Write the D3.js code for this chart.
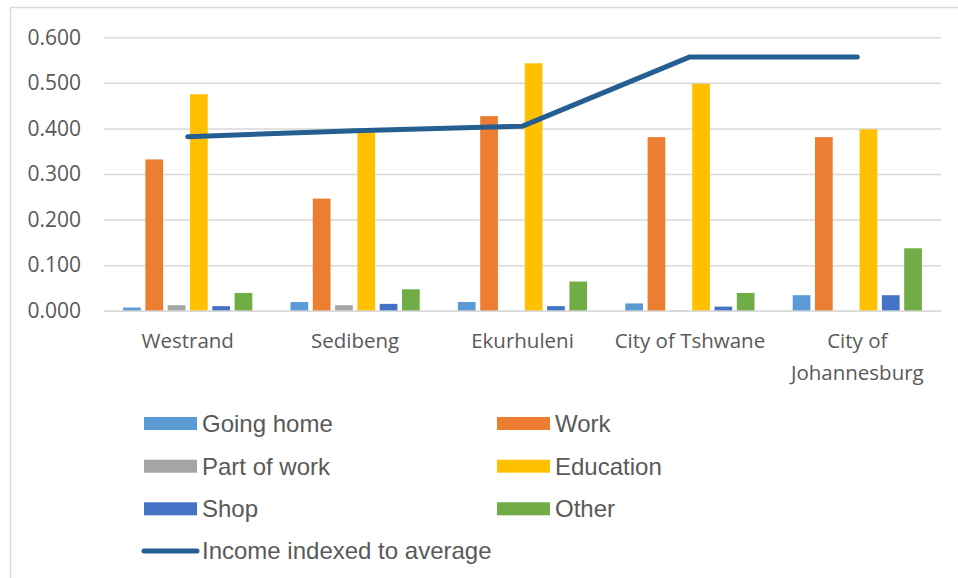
<!DOCTYPE html>
<html lang="en">
<head>
    <meta charset="UTF-8">
    <title>Trip purpose by region</title>
    <style>
        * { margin: 0; padding: 0; box-sizing: border-box; }
        body { background: #ffffff; width: 958px; height: 578px; overflow: hidden; }
        .axis text { fill: #595959; font-family: 'Open Sans', sans-serif; }
        .legend text { fill: #595959; font-family: 'Liberation Sans', Arial, sans-serif; font-size: 24px; }
    </style>
</head>
<body>
    <div id="chart"></div>

    <script src="https://d3js.org/d3.v7.min.js"></script>
    <script>
        const categories = ["Westrand", "Sedibeng", "Ekurhuleni", "City of Tshwane", "City of Johannesburg"];
        const categoryLines = [["Westrand"], ["Sedibeng"], ["Ekurhuleni"], ["City of Tshwane"], ["City of", "Johannesburg"]];

        const seriesNames = ["Going home", "Work", "Part of work", "Education", "Shop", "Other"];
        const seriesColors = ["#5B9BD5", "#ED7D31", "#A5A5A5", "#FFC000", "#4472C4", "#70AD47"];

        const goingHome  = [0.007, 0.019, 0.019, 0.016, 0.034];
        const work       = [0.332, 0.246, 0.427, 0.381, 0.381];
        const partOfWork = [0.012, 0.012, 0.000, 0.001, 0.000];
        const education  = [0.475, 0.398, 0.543, 0.498, 0.398];
        const shop       = [0.010, 0.015, 0.010, 0.009, 0.034];
        const other      = [0.039, 0.047, 0.064, 0.039, 0.137];

        const lineName = "Income indexed to average";
        const income = [0.382, 0.395, 0.405, 0.557, 0.557];

        const yTicks = [0, 0.1, 0.2, 0.3, 0.4, 0.5, 0.6];

        const seriesValues = [goingHome, work, partOfWork, education, shop, other];

        const W = 958, H = 578;
        const plot = { left: 104, right: 941, top: 37.3, bottom: 310.7 };

        const svg = d3.select("#chart")
            .append("svg")
            .attr("width", W)
            .attr("height", H);

        // chart frame (only top and left edges visible)
        svg.append("rect")
            .attr("x", 10.5).attr("y", 7.5)
            .attr("width", 1000).attr("height", 1000)
            .attr("fill", "none")
            .attr("stroke", "#D9D9D9")
            .attr("stroke-width", 1.5);

        const x0 = d3.scaleBand()
            .domain(categories)
            .range([plot.left, plot.right])
            .padding(0);

        const x1 = d3.scaleBand()
            .domain(seriesNames)
            .range([0, x0.bandwidth()])
            .paddingInner(0.206)
            .paddingOuter(0.856);

        const y = d3.scaleLinear()
            .domain([0, 0.6])
            .range([plot.bottom, plot.top]);

        // y axis + gridlines
        const yAxis = svg.append("g")
            .attr("class", "axis y")
            .attr("transform", `translate(${plot.left},0)`)
            .call(d3.axisLeft(y)
                .tickValues(yTicks)
                .tickFormat(d3.format(".3f"))
                .tickSize(-(plot.right - plot.left))
                .tickPadding(23));
        yAxis.select(".domain").remove();
        yAxis.selectAll(".tick line").attr("stroke", "#D9D9D9").attr("stroke-width", 1.5);
        yAxis.selectAll(".tick text").attr("font-size", 21);

        // bars
        const table = categories.map((c, i) => ({
            category: c,
            values: seriesNames.map((s, j) => ({ series: s, value: seriesValues[j][i], color: seriesColors[j] }))
        }));

        const groups = svg.selectAll(".group")
            .data(table)
            .enter()
            .append("g")
            .attr("class", "group")
            .attr("transform", d => `translate(${x0(d.category)},0)`);

        groups.selectAll("rect")
            .data(d => d.values)
            .enter()
            .append("rect")
            .attr("x", d => x1(d.series))
            .attr("y", d => y(d.value))
            .attr("width", x1.bandwidth())
            .attr("height", d => y(0) - y(d.value))
            .attr("fill", d => d.color);

        // x axis
        const xAxis = svg.append("g")
            .attr("class", "axis x")
            .attr("transform", `translate(0,${plot.bottom})`)
            .call(d3.axisBottom(x0).tickSize(0).tickFormat(""));
        xAxis.select(".domain").attr("stroke", "#D9D9D9").attr("stroke-width", 1.5);

        xAxis.selectAll(".tick").each(function(d, i) {
            const t = d3.select(this).select("text")
                .attr("font-size", 20.5)
                .attr("y", 0)
                .attr("dy", null);
            categoryLines[i].forEach((line, k) => {
                t.append("tspan")
                    .attr("x", 0)
                    .attr("y", 37 + k * 32)
                    .text(line);
            });
        });

        // line
        const line = d3.line()
            .x((d, i) => x0(categories[i]) + x0.bandwidth() / 2)
            .y(d => y(d));

        svg.append("path")
            .datum(income)
            .attr("d", line)
            .attr("fill", "none")
            .attr("stroke", "#255E91")
            .attr("stroke-width", 5)
            .attr("stroke-linecap", "round")
            .attr("stroke-linejoin", "round");

        // legend
        const legend = svg.append("g").attr("class", "legend");
        const colX = [144, 497];
        const rowY = [423.5, 466.2, 508.8, 551];

        seriesNames.forEach((s, j) => {
            const cx = colX[j % 2], cy = rowY[Math.floor(j / 2)];
            legend.append("rect")
                .attr("x", cx).attr("y", cy - 6.5)
                .attr("width", 53).attr("height", 13)
                .attr("fill", seriesColors[j]);
            legend.append("text")
                .attr("x", cx + 58).attr("y", cy)
                .attr("dy", "0.35em")
                .text(s);
        });

        legend.append("line")
            .attr("x1", 144).attr("x2", 197)
            .attr("y1", rowY[3]).attr("y2", rowY[3])
            .attr("stroke", "#255E91")
            .attr("stroke-width", 5)
            .attr("stroke-linecap", "round");
        legend.append("text")
            .attr("x", 202).attr("y", rowY[3])
            .attr("dy", "0.35em")
            .text(lineName);
    </script>
</body>
</html>
